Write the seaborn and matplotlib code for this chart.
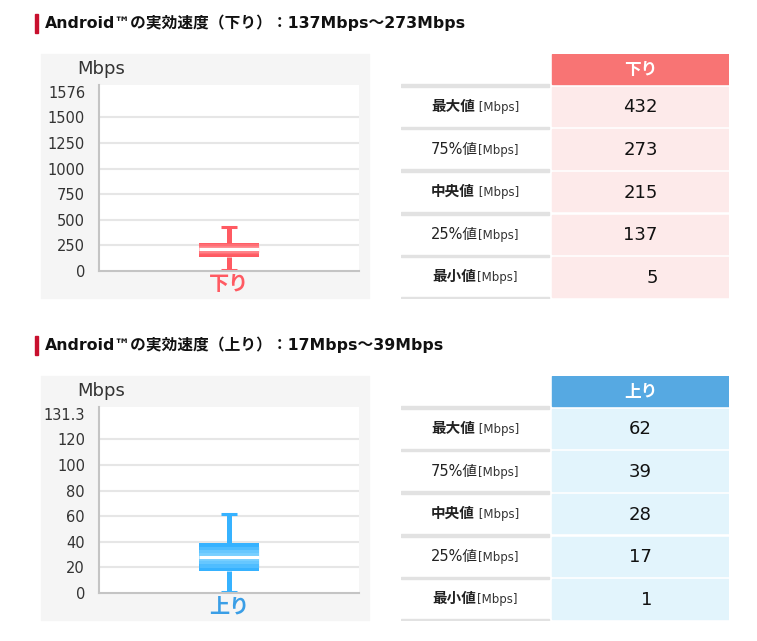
import numpy as np
import pandas as pd
import matplotlib
matplotlib.use("Agg")
import matplotlib.pyplot as plt
from matplotlib.patches import Rectangle
from matplotlib.offsetbox import TextArea, HPacker, AnnotationBbox
import seaborn as sns

W, H = 757, 641

# data
down_values = [432, 273, 215, 137, 5]
up_values = [62, 39, 28, 17, 1]
down_label = "下り"
up_label = "上り"
down_ticks = [0, 250, 500, 750, 1000, 1250, 1500]
up_ticks = [0, 20, 40, 60, 80, 100, 120]
down_axis_max = "1576"
up_axis_max = "131.3"
down_title = "Android™の実効速度（下り）：137Mbps～273Mbps"
up_title = "Android™の実効速度（上り）：17Mbps～39Mbps"
row_names = ["最大値", "75%値", "中央値", "25%値", "最小値"]
row_units = [" [Mbps]", "[Mbps]", " [Mbps]", "[Mbps]", "[Mbps]"]
row_bold = [True, False, True, False, True]

sns.set_style("white")
FAM = ["DejaVu Sans", "Noto Sans CJK JP"]
plt.rcParams["font.family"] = FAM


def px_rect(x0, y0, x1, y1):
    return [x0 / W, 1 - y1 / H, (x1 - x0) / W, (y1 - y0) / H]


def section(fig, top, title, values, label, ticks, axis_max,
            main, glow, light_lbl, header, cell):
    # title with red marker
    fig.add_artist(Rectangle((35 / W, 1 - (top - 21) / H), 2.5 / W, 19 / H,
                             transform=fig.transFigure, color="#c8102e"))
    fig.text(45 / W, 1 - (top - 31) / H, title, va="center", ha="left",
             size=11.3, weight="bold", color="#111")

    # grey panel behind the chart
    fig.add_artist(Rectangle((41 / W, 1 - (top + 244) / H), 328 / W, 244 / H,
                             transform=fig.transFigure, color="#f5f5f5", zorder=0))

    plot_h = 186
    ax = fig.add_axes(px_rect(99, top + 31, 359, top + 31 + plot_h))
    ax.set_facecolor("white")
    df = pd.DataFrame({"dir": [label] * len(values), "Mbps": values})
    box_w = 0.23
    sns.boxplot(data=df, x="dir", y="Mbps", ax=ax, width=box_w, color=main,
                saturation=1, linecolor=main, fliersize=0,
                boxprops=dict(facecolor=main, edgecolor=main, linewidth=0),
                whiskerprops=dict(color=main, linewidth=3.6, solid_capstyle="butt"),
                capprops=dict(color=main, linewidth=2.2, solid_capstyle="butt"),
                medianprops=dict(color="white", linewidth=2.2, zorder=4),
                capwidths=0.058)
    step = ticks[1] - ticks[0]
    ymax = ticks[-1] + step * 1.27
    ax.set_ylim(0, ymax)
    ax.set_xlim(-0.5, 0.5)

    # lighter glow around the median, as in the original glossy box
    q1, med, q3 = np.percentile(values, [25, 50, 75])
    box_pt = (q3 - q1) / ymax * plot_h * 0.72
    for frac, a in [(0.75, 0.3), (0.5, 0.4), (0.28, 0.5)]:
        ax.hlines(med, -box_w / 2, box_w / 2, color=glow, linewidth=box_pt * frac,
                  alpha=a, zorder=3)

    ax.set_yticks(ticks + [ticks[-1] + step],
                  [str(t) for t in ticks] + [axis_max])
    ax.tick_params(axis="y", length=0, pad=10, labelsize=10.5, labelcolor="#333")
    ax.tick_params(axis="x", length=0, pad=3, labelsize=14.5, labelcolor=light_lbl)
    for t in ax.get_xticklabels():
        t.set_fontweight("bold")
    ax.set_xlabel("")
    ax.set_ylabel("Mbps", rotation=0, size=13, color="#333", ha="center", va="center")
    ax.yaxis.set_label_coords(0.01, 1.085)
    ax.set_axisbelow(True)
    ax.yaxis.grid(True, color="#e6e6e6", linewidth=1.5)
    gl = ax.get_ygridlines()
    gl[0].set_visible(False)
    gl[-1].set_visible(False)
    for s in ["top", "right"]:
        ax.spines[s].set_visible(False)
    for s in ["left", "bottom"]:
        ax.spines[s].set_color("#c4c4c4")
        ax.spines[s].set_linewidth(1.5)

    # table
    tx = fig.add_axes(px_rect(401, top, 729, top + 245))
    tx.set_xlim(0, 328)
    tx.set_ylim(245, 0)
    tx.axis("off")
    tx.add_patch(Rectangle((151, 0), 177, 30, color=header))
    tx.text(239.5, 15.5, label, ha="center", va="center", color="white",
            size=12, weight="bold")
    row_h, cell_h, first = 42.6, 39.5, 32.7
    nmax = max(len(str(v)) for v in values)
    digit_w = 0.636 * 13 * 100 / 72
    for i, v in enumerate(values):
        y0 = first + i * row_h
        tx.add_patch(Rectangle((0, y0 - 2.6), 148, 2.6, color="#e2e2e2"))
        tx.add_patch(Rectangle((151, y0), 177, cell_h, color=cell))
        yc = y0 + cell_h / 2
        box = HPacker(children=[
            TextArea(row_names[i], textprops=dict(size=10.5, color="#222",
                     weight="bold" if row_bold[i] else "normal", family=FAM)),
            TextArea(row_units[i], textprops=dict(size=8.5, color="#333", family=FAM)),
        ], align="baseline", pad=0, sep=0)
        tx.add_artist(AnnotationBbox(box, (74, yc), xycoords="data", frameon=False,
                                     box_alignment=(0.5, 0.5), pad=0))
        tx.text(239.5 + nmax * digit_w / 2, yc + 1, str(v), ha="right", va="center",
                size=13, color="#111")
    tx.add_patch(Rectangle((0, 242.6), 148, 2.6, color="#e2e2e2"))


fig = plt.figure(figsize=(W / 100, H / 100), dpi=100)
section(fig, 54, down_title, down_values, down_label, down_ticks, down_axis_max,
        "#ff5a62", "#ffa0a5", "#ff5a62", "#f87474", "#fdeaea")
section(fig, 376, up_title, up_values, up_label, up_ticks, up_axis_max,
        "#36b2ff", "#8ad8ff", "#3a9ee6", "#56a9e2", "#e2f4fc")
fig.savefig("out.png", dpi=100)
